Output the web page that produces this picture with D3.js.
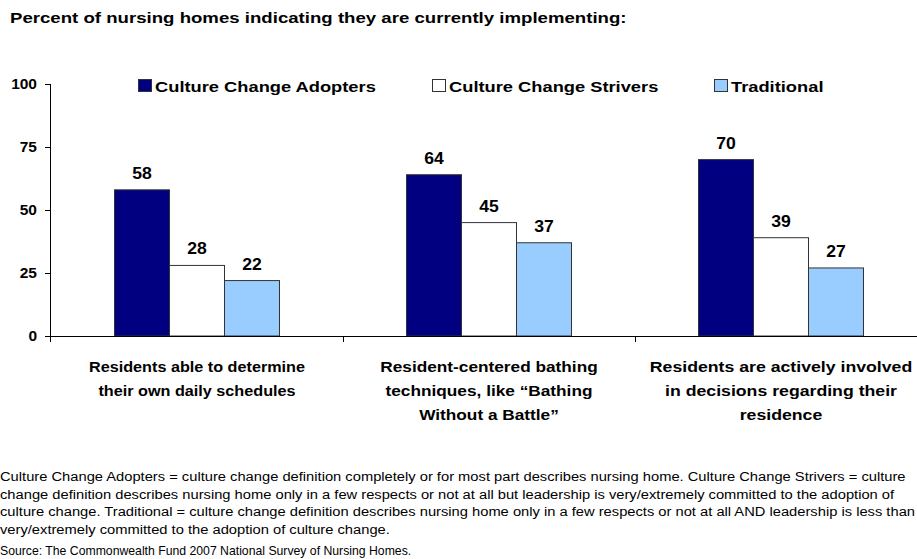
<!DOCTYPE html>
<html>
<head>
<meta charset="utf-8">
<script src="https://cdn.jsdelivr.net/npm/d3@7"></script>
<style>
  body { margin: 0; background: #fff; }
  svg text { font-family: Arial, "Liberation Sans", sans-serif; fill: #000; }
</style>
</head>
<body>
<div id="chart"></div>
<script>
// chart data
const categories = [
    ["Residents able to determine", "their own daily schedules"],
    ["Resident-centered bathing", "techniques, like \u201cBathing", "Without a Battle\u201d"],
    ["Residents are actively involved", "in decisions regarding their", "residence"]
];
const seriesNames = ["Culture Change Adopters", "Culture Change Strivers", "Traditional"];
const adopters = [58, 64, 70];
const strivers = [28, 45, 39];
const traditional = [22, 37, 27];
const yTickValues = [0, 25, 50, 75, 100];
const titleText = "Percent of nursing homes indicating they are currently implementing:";
const footnoteLines = [
    "Culture Change Adopters = culture change definition completely or for most part describes nursing home. Culture Change Strivers = culture",
    "change definition describes nursing home only in a few respects or not at all but leadership is very/extremely committed to the adoption of",
    "culture change. Traditional = culture change definition describes nursing home only in a few respects or not at all AND leadership is less than",
    "very/extremely committed to the adoption of culture change."
];
const sourceText = "Source: The Commonwealth Fund 2007 National Survey of Nursing Homes.";

const colors = ["#000080", "#ffffff", "#99ccff"];
const seriesValues = [adopters, strivers, traditional];
// sideways stretch of each category text box
const catStretch = [1.08, 1.15, 1.18];

let totalWidth = 917, totalHeight = 559;
let axisLeft = 51, axisBottom = 336, axisTop = 84, bandEnd = 927;

// the slide was stretched sideways, so text is drawn wider than tall
function place(x, y, sx) {
    return "translate(" + x + "," + y + ") scale(" + sx + ",1)";
}

let svg = d3.select("#chart").append("svg")
        .attr("width", totalWidth)
        .attr("height", totalHeight);

let keys = categories.map((c, i) => i);
let x0 = d3.scaleBand().domain(keys).range([axisLeft, bandEnd]);
let bw = x0.bandwidth();
let groupPad = bw * 0.2175;
let x1 = d3.scaleBand().domain(d3.range(seriesNames.length)).range([groupPad, bw - groupPad]);
let yScale = d3.scaleLinear().domain([0, 100]).range([axisBottom, axisTop]);

// title
svg.append("text")
        .attr("transform", place(10, 23, 1.33))
        .attr("font-size", "14px")
        .attr("font-weight", "bold")
        .text(titleText);

// bars
let data = [];
keys.forEach(function (k) {
    seriesValues.forEach(function (vals, s) {
        data.push({cat: k, s: s, v: vals[k]});
    });
});

svg.append("g").selectAll("rect")
        .data(data)
        .enter().append("rect")
        .attr("x", d => x0(d.cat) + x1(d.s))
        .attr("y", d => yScale(d.v))
        .attr("width", x1.bandwidth())
        .attr("height", d => axisBottom - yScale(d.v))
        .attr("fill", d => colors[d.s])
        .attr("stroke", "#333")
        .attr("stroke-width", 1);

svg.append("g").selectAll("text")
        .data(data)
        .enter().append("text")
        .attr("transform", d => place(x0(d.cat) + x1(d.s) + x1.bandwidth() / 2, yScale(d.v) - 11, 1.1))
        .attr("text-anchor", "middle")
        .attr("font-size", "16px")
        .attr("font-weight", "bold")
        .text(d => d.v);

// y axis
let yAxis = d3.axisLeft(yScale).tickValues(yTickValues).tickSize(6).tickPadding(8);
let gy = svg.append("g")
        .attr("transform", "translate(" + axisLeft + ",0)")
        .call(yAxis);
gy.select(".domain").attr("d", "M-0.5," + axisTop + "V" + (axisBottom + 6));
gy.selectAll("text")
        .attr("font-size", "15.5px")
        .attr("font-weight", "bold")
        .attr("font-family", "Arial, 'Liberation Sans', sans-serif");
gy.selectAll("line, path").attr("stroke", "#000");

// x axis
let xAxis = d3.axisBottom(x0).tickValues([]).tickSize(0);
let gx = svg.append("g")
        .attr("transform", "translate(0," + axisBottom + ")")
        .call(xAxis);
gx.select(".domain").attr("d", "M" + (axisLeft - 6) + ",0.5H" + totalWidth).attr("stroke", "#000");
gx.selectAll(".sep")
        .data(keys.slice(1))
        .enter().append("line")
        .attr("class", "sep")
        .attr("x1", d => x0(d) + 0.5)
        .attr("x2", d => x0(d) + 0.5)
        .attr("y1", 0)
        .attr("y2", 6)
        .attr("stroke", "#000");

// category labels
svg.append("g").selectAll("g")
        .data(keys)
        .enter().append("g")
        .selectAll("text")
        .data(k => categories[k].map(line => ({k: k, line: line})))
        .enter().append("text")
        .attr("transform", (d, i) => place(x0(d.k) + bw / 2, 372 + i * 24, catStretch[d.k]))
        .attr("text-anchor", "middle")
        .attr("font-size", "15px")
        .attr("font-weight", "bold")
        .text(d => d.line);

// legend
let legendX = [138, 432, 714];
let legend = svg.append("g").selectAll("g")
        .data(seriesNames)
        .enter().append("g")
        .attr("transform", (d, i) => "translate(" + legendX[i] + ",79)");
legend.append("rect")
        .attr("x", 0.5).attr("y", 0.5)
        .attr("width", 13).attr("height", 12)
        .attr("fill", (d, i) => colors[i])
        .attr("stroke", "#333");
legend.append("text")
        .attr("transform", place(17, 13, 1.22))
        .attr("font-size", "15px")
        .attr("font-weight", "bold")
        .text(d => d);

// footnote
svg.append("g").selectAll("text")
        .data(footnoteLines)
        .enter().append("text")
        .attr("transform", (d, i) => place(0, 481 + i * 17.5, 1.09))
        .attr("font-size", "13.5px")
        .text(d => d);
svg.append("text")
        .attr("transform", place(0, 555, 0.98))
        .attr("font-size", "12.5px")
        .text(sourceText);
</script>
</body>
</html>
